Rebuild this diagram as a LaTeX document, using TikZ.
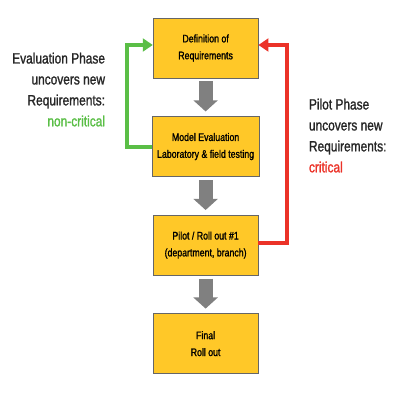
\documentclass[tikz,border=0pt]{standalone}
\usepackage{fontspec}
\setmainfont[FakeStretch=0.82]{Liberation Sans}
\newfontfamily\heavyfont[FakeStretch=0.8,FakeBold=1.3]{Liberation Sans}
\usetikzlibrary{positioning,arrows.meta}
\definecolor{boxyellow}{RGB}{255,200,40}
\definecolor{okgreen}{RGB}{90,190,70}
\definecolor{badred}{RGB}{235,50,40}
\definecolor{flowgray}{RGB}{128,128,128}

\begin{document}
\begin{tikzpicture}[>=Triangle,node distance=0.95cm,
    phase/.style={rectangle,draw=gray!80!black,fill=boxyellow,minimum width=2.625cm,minimum height=1.5cm,align=center,font=\heavyfont\fontsize{7.8}{12}\selectfont},
    down arrow/.style={draw=flowgray,line width=0.35cm,-{Triangle[length=0.28cm,width=0.6cm]},shorten <=0.08cm,shorten >=0.12cm},
    loop line/.style={line width=0.1cm,-{Triangle[length=0.25cm,width=0.32cm]}},
    note/.style={font=\heavyfont\fontsize{10.6}{14.9}\selectfont,text=black!85}]

    \useasboundingbox (0,0) rectangle (10,10);

            \node[phase] (def) at (5.14,8.8) {Definition of\\Requirements};
            \node[phase] (eval) [below=of def] {Model Evaluation\\Laboratory \& field testing};
            \node[phase] (pilot) [below=of eval] {Pilot / Roll out \#1\\(department, branch)};
            \node[phase] (final) [below=of pilot] {Final\\Roll out};

                \draw[down arrow] (def) -- (eval);
                \draw[down arrow] (eval) -- (pilot);
                \draw[down arrow] (pilot) -- (final);

            \coordinate (gl) at (3.175,0);
            \coordinate (rt) at (7.175,0);

                \draw[loop line,okgreen] (eval.west) -| ([yshift=0.075cm]def.west -| gl) -- ([yshift=0.075cm]def.west);
                \draw[loop line,badred] ([yshift=0.05cm]pilot.east) -| ([yshift=0.075cm]def.east -| rt) -- ([yshift=0.075cm]def.east);

            \node[note,anchor=east,align=right] (evalnote) at (2.75,7.76) {Evaluation Phase\\uncovers new\\Requirements:\\\textcolor{okgreen}{non-critical}};
            \node[note,anchor=west,align=left] (pilotnote) at (7.6,6.61) {Pilot Phase\\uncovers new\\Requirements:\\\textcolor{badred}{critical}};
\end{tikzpicture}
\end{document}
